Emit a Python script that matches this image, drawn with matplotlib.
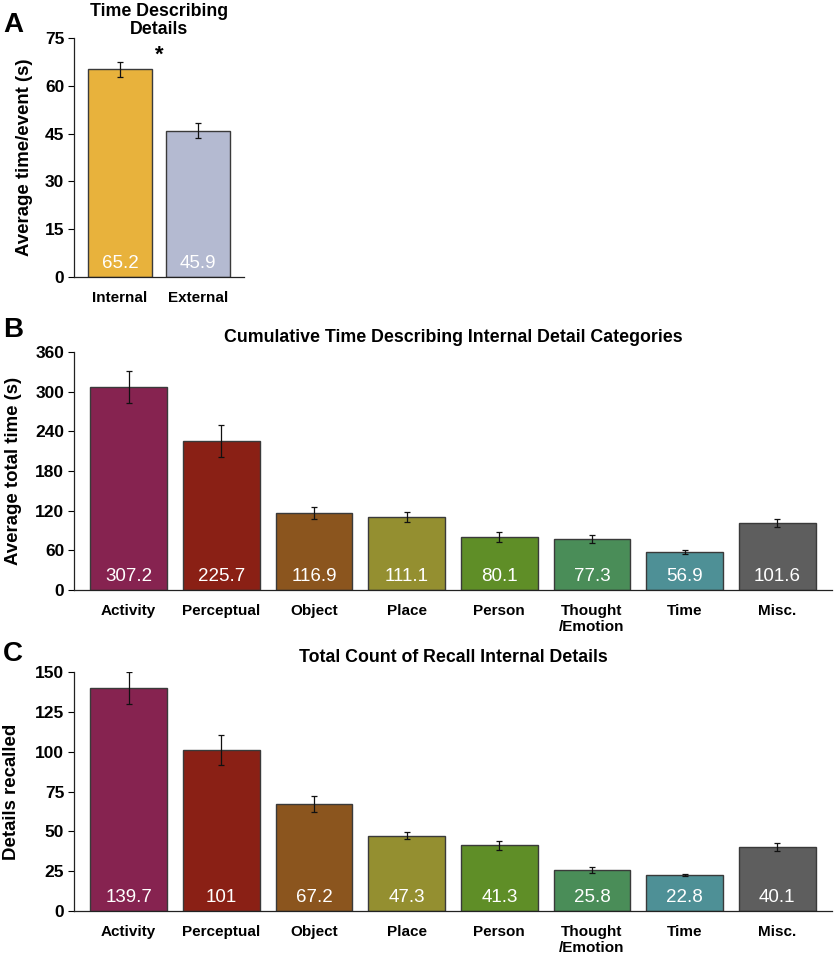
import matplotlib.pyplot as plt
import numpy as np

plt.rcParams['font.family'] = ['Liberation Sans', 'DejaVu Sans']

# Panel A
a_labels = ["Internal", "External"]
a_values = [65.2, 45.9]
a_errors = [2.3, 2.4]
a_colors = ["#E8B23C", "#B4BAD1"]

# Panels B and C share categories
categories = ["Activity", "Perceptual", "Object", "Place", "Person", "Thought\n/Emotion", "Time", "Misc."]
cat_colors = ["#862350", "#8A2015", "#8B551E", "#948F30", "#5F8E27", "#4A8D58", "#4E9096", "#5E5E5E"]

b_values = [307.2, 225.7, 116.9, 111.1, 80.1, 77.3, 56.9, 101.6]
b_errors = [24.5, 24.0, 9.0, 7.5, 7.5, 6.5, 3.0, 6.5]

c_values = [139.7, 101, 67.2, 47.3, 41.3, 25.8, 22.8, 40.1]
c_errors = [10.0, 9.5, 4.8, 2.4, 2.8, 2.0, 0.6, 2.4]


def draw_bars(ax, labels, values, errors, colors, ymax, yticks, ylabel, title,
              width=0.83, title_pad=5):
    x = np.arange(len(values))
    ax.bar(x, values, width=width, color=colors, edgecolor="#3a3a3a", linewidth=1.0, zorder=2)
    ax.errorbar(x, values, yerr=errors, fmt="none", ecolor="#111111", elinewidth=0.9,
                capsize=2.5, capthick=0.9, zorder=3)
    for xi, v in zip(x, values):
        ax.annotate(f"{v:g}", xy=(xi, 0), xytext=(0, 9), textcoords="offset pixels",
                    ha="center", va="baseline", color="white", fontsize=13.5)
    ax.set_ylim(0, ymax)
    ax.set_yticks(yticks)
    ax.set_xlim(-0.59, len(values) - 1 + 0.59)
    ax.set_xticks(x)
    ax.set_xticklabels(labels, fontweight="bold", fontsize=11)
    ax.tick_params(axis="x", length=0, pad=10)
    ax.tick_params(axis="y", length=4, width=0.8, labelsize=12.5, pad=3)
    for lab in ax.get_yticklabels():
        lab.set_fontweight("bold")
    for side in ["top", "right"]:
        ax.spines[side].set_visible(False)
    for side in ["left", "bottom"]:
        ax.spines[side].set_linewidth(0.9)
        ax.spines[side].set_color("#222222")
    ax.set_ylabel(ylabel, fontweight="bold", fontsize=13.4)
    ax.set_title(title, fontweight="bold", fontsize=12.8, pad=title_pad, linespacing=1.05)


fig = plt.figure(figsize=(8.37, 9.56), dpi=100)
W, H = 837, 956


def axes_px(left, top, right, bottom):
    return fig.add_axes([left / W, 1 - bottom / H, (right - left) / W, (bottom - top) / H])


ax_a = axes_px(74, 38, 244, 277)
draw_bars(ax_a, a_labels, a_values, a_errors, a_colors, 75, [0, 15, 30, 45, 60, 75],
          "Average time/event (s)", "Time Describing\nDetails", width=0.82, title_pad=1)
ax_a.text(0.5, 69.5, "*", ha="center", va="center", fontsize=16, fontweight="bold")
ax_a.yaxis.set_label_coords(-0.241, 0.5)

ax_b = axes_px(74, 352, 832, 590)
draw_bars(ax_b, categories, b_values, b_errors, cat_colors, 360, [0, 60, 120, 180, 240, 300, 360],
          "Average total time (s)", "Cumulative Time Describing Internal Detail Categories",
          title_pad=7)
ax_b.yaxis.set_label_coords(-0.0686, 0.5)

ax_c = axes_px(74, 672, 832, 911)
draw_bars(ax_c, categories, c_values, c_errors, cat_colors, 150, [0, 25, 50, 75, 100, 125, 150],
          "Details recalled", "Total Count of Recall Internal Details", title_pad=7)
ax_c.yaxis.set_label_coords(-0.071, 0.5)

for letter, ypx in [("A", 25), ("B", 330), ("C", 654)]:
    fig.text(3 / W, 1 - ypx / H, letter, fontsize=20, fontweight="bold", ha="left", va="center")

fig.savefig("out.png", dpi=100)
